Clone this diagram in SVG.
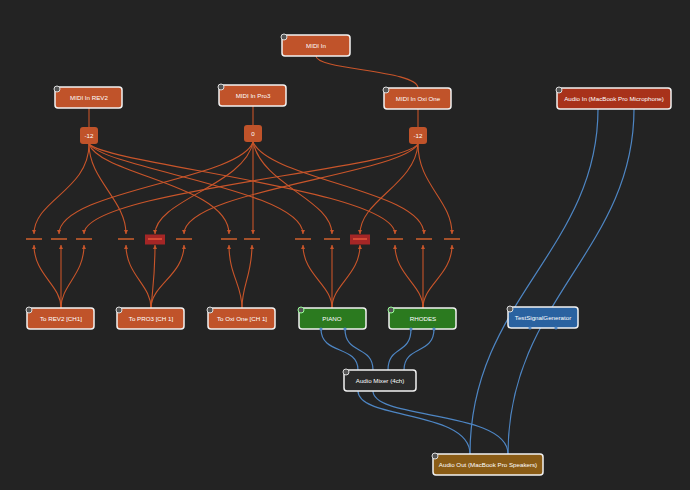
<svg xmlns="http://www.w3.org/2000/svg" width="690" height="490" viewBox="0 0 690 490">
<defs>
<style>
text{font-family:"Liberation Sans",Arial,sans-serif;font-size:6.2px;fill:#fff;text-anchor:middle}
.n{stroke:#f2f2f2;stroke-width:1.5}
.o{fill:#c0532a}.g{fill:#2b7a1f}.b{fill:#2a62a0}.m{fill:#2a2a2a}.ao{fill:#8a5c16}.ai{fill:#a8321a}
.ic{fill:#555;stroke:#ddd;stroke-width:1}
.mc{fill:none;stroke:#c9552a;stroke-width:1.1}
.ac{fill:none;stroke:#4e86c4;stroke-width:1.2}
.bar{stroke:#d0602e;stroke-width:1.5}
.port{fill:#4e86c4}
</style>
<marker id="ar" viewBox="0 0 6 6" refX="6" refY="3" markerWidth="4" markerHeight="4" orient="auto" markerUnits="userSpaceOnUse"><path d="M0,0 L6,3 L0,6 z" fill="#c9552a"/></marker>
</defs>
<rect width="690" height="490" fill="#232323"/>
<g id="connectors">
<path class="mc" d="M316,56 C316,70 418,70 418,88"/>
<path class="mc" d="M89,108 V127"/><path class="mc" d="M253,106 V125"/><path class="mc" d="M418,109 V127"/>
<path class="mc" marker-end="url(#ar)" d="M89,144 C89,190 34,200 34,234"/>
<path class="mc" marker-end="url(#ar)" d="M89,144 C89,180 126,200 126,234"/>
<path class="mc" marker-end="url(#ar)" d="M89,144 C100,175 229,185 229,234"/>
<path class="mc" marker-end="url(#ar)" d="M89,144 C110,170 303,190 303,234"/>
<path class="mc" marker-end="url(#ar)" d="M89,144 C110,165 395,190 395,234"/>
<path class="mc" marker-end="url(#ar)" d="M253,142 C240,180 59,190 59,234"/>
<path class="mc" marker-end="url(#ar)" d="M253,142 C245,185 155,200 155,234"/>
<path class="mc" d="M253,142 V234" marker-end="url(#ar)"/>
<path class="mc" marker-end="url(#ar)" d="M253,142 C262,185 332,200 332,234"/>
<path class="mc" marker-end="url(#ar)" d="M253,142 C270,180 424,190 424,234"/>
<path class="mc" marker-end="url(#ar)" d="M418,144 C400,170 84,190 84,234"/>
<path class="mc" marker-end="url(#ar)" d="M418,144 C400,175 184,190 184,234"/>
<path class="mc" marker-end="url(#ar)" d="M418,144 C415,185 360,200 360,234"/>
<path class="mc" marker-end="url(#ar)" d="M418,144 C418,185 452,200 452,234"/>
<path class="mc" marker-end="url(#ar)" d="M61,308 C61,285 34,275 34,245"/>
<path class="mc" marker-end="url(#ar)" d="M61,308 V245"/>
<path class="mc" marker-end="url(#ar)" d="M61,308 C61,285 84,275 84,245"/>
<path class="mc" marker-end="url(#ar)" d="M151,308 C151,285 126,275 126,245"/>
<path class="mc" marker-end="url(#ar)" d="M151,308 C153,285 155,275 155,245"/>
<path class="mc" marker-end="url(#ar)" d="M151,308 C151,285 184,275 184,245"/>
<path class="mc" marker-end="url(#ar)" d="M242,308 C242,285 229,275 229,245"/>
<path class="mc" marker-end="url(#ar)" d="M242,308 C242,285 252,275 252,245"/>
<path class="mc" marker-end="url(#ar)" d="M332,308 C332,285 303,275 303,245"/>
<path class="mc" marker-end="url(#ar)" d="M332,308 V245"/>
<path class="mc" marker-end="url(#ar)" d="M332,308 C332,285 360,275 360,245"/>
<path class="mc" marker-end="url(#ar)" d="M423,308 C423,285 395,275 395,245"/>
<path class="mc" marker-end="url(#ar)" d="M423,308 V245"/>
<path class="mc" marker-end="url(#ar)" d="M423,308 C423,285 452,275 452,245"/>
<path class="ac" d="M321,329 C321,355 358,345 358,370"/>
<path class="ac" d="M345,329 C345,355 373,345 373,370"/>
<path class="ac" d="M411,329 C411,355 388,345 388,370"/>
<path class="ac" d="M434,329 C434,355 404,345 404,370"/>
<path class="ac" d="M358,391 C358,420 470,410 470,454"/>
<path class="ac" d="M373,391 C373,420 508,410 508,454"/>
<path class="ac" d="M598,109 C598,250 470,300 470,454"/>
<path class="ac" d="M634,109 C634,250 508,300 508,454"/>
</g>
<g id="filters">
<g class="bar">
<line x1="26" y1="239" x2="42" y2="239"/><line x1="51" y1="239" x2="67" y2="239"/><line x1="76" y1="239" x2="92" y2="239"/>
<line x1="118" y1="239" x2="134" y2="239"/><line x1="176" y1="239" x2="192" y2="239"/>
<line x1="221" y1="239" x2="237" y2="239"/><line x1="244" y1="239" x2="260" y2="239"/>
<line x1="295" y1="239" x2="311" y2="239"/><line x1="324" y1="239" x2="340" y2="239"/>
<line x1="387" y1="239" x2="403" y2="239"/><line x1="416" y1="239" x2="432" y2="239"/><line x1="444" y1="239" x2="460" y2="239"/>
</g>
<rect x="145" y="234.5" width="20" height="10" fill="#a52626"/><line class="bar" x1="148" y1="239" x2="162" y2="239" style="stroke:#e8553a"/>
<rect x="350" y="234.5" width="20" height="10" fill="#a52626"/><line class="bar" x1="353" y1="239" x2="367" y2="239" style="stroke:#e8553a"/>
</g>
<g id="t1"><rect class="o" x="80" y="127" width="18" height="17" rx="3"/><text x="89" y="138">-12</text></g>
<g id="t2"><rect class="o" x="244" y="125" width="18" height="17" rx="3"/><text x="253" y="136">0</text></g>
<g id="t3"><rect class="o" x="409" y="127" width="18" height="17" rx="3"/><text x="418" y="138">-12</text></g>
<g id="midi-in"><rect class="n o" x="282" y="35" width="68" height="21" rx="3"/><circle class="ic" cx="284" cy="37" r="3"/><text x="316" y="48">MIDI In</text></g>
<g id="midi-rev2"><rect class="n o" x="55" y="87" width="67" height="21" rx="3"/><circle class="ic" cx="57" cy="89" r="3"/><text x="89" y="100">MIDI In REV2</text></g>
<g id="midi-pro3"><rect class="n o" x="219" y="85" width="67" height="21" rx="3"/><circle class="ic" cx="221" cy="87" r="3"/><text x="253" y="98">MIDI In Pro3</text></g>
<g id="midi-oxi"><rect class="n o" x="384" y="88" width="67" height="21" rx="3"/><circle class="ic" cx="386" cy="90" r="3"/><text x="418" y="101">MIDI In Oxi One</text></g>
<g id="audio-in"><rect class="n ai" x="557" y="88" width="114" height="21" rx="3"/><circle class="ic" cx="559" cy="90" r="3"/><text x="614" y="101">Audio In (MacBook Pro Microphone)</text></g>
<g id="to-rev2"><rect class="n o" x="27" y="308" width="67" height="21" rx="3"/><circle class="ic" cx="29" cy="310" r="3"/><text x="61" y="321">To REV2 [CH1]</text></g>
<g id="to-pro3"><rect class="n o" x="117" y="308" width="67" height="21" rx="3"/><circle class="ic" cx="119" cy="310" r="3"/><text x="151" y="321">To PRO3 [CH 1]</text></g>
<g id="to-oxi"><rect class="n o" x="208" y="308" width="67" height="21" rx="3"/><circle class="ic" cx="210" cy="310" r="3"/><text x="242" y="321">To Oxi One [CH 1]</text></g>
<g id="piano"><rect class="n g" x="299" y="308" width="67" height="21" rx="3"/><circle class="ic" cx="301" cy="310" r="3" style="stroke:#9f9"/><text x="332" y="321">PIANO</text><circle class="port" cx="321" cy="329" r="1.6"/><circle class="port" cx="345" cy="329" r="1.6"/></g>
<g id="rhodes"><rect class="n g" x="389" y="308" width="67" height="21" rx="3"/><circle class="ic" cx="391" cy="310" r="3" style="stroke:#9f9"/><text x="423" y="321">RHODES</text><circle class="port" cx="411" cy="329" r="1.6"/><circle class="port" cx="434" cy="329" r="1.6"/></g>
<g id="tsg"><rect class="n b" x="508" y="307" width="70" height="21" rx="3"/><circle class="ic" cx="510" cy="309" r="3"/><text x="543" y="320">TestSignalGenerator</text><circle class="port" cx="530" cy="328" r="1.6"/><circle class="port" cx="556" cy="328" r="1.6"/></g>
<g id="mixer"><rect class="n m" x="344" y="370" width="72" height="21" rx="3"/><circle class="ic" cx="346" cy="372" r="3"/><text x="380" y="383">Audio Mixer (4ch)</text></g>
<g id="audio-out"><rect class="n ao" x="433" y="454" width="110" height="21" rx="3"/><circle class="ic" cx="435" cy="456" r="3"/><text x="488" y="467">Audio Out (MacBook Pro Speakers)</text></g>
</svg>
